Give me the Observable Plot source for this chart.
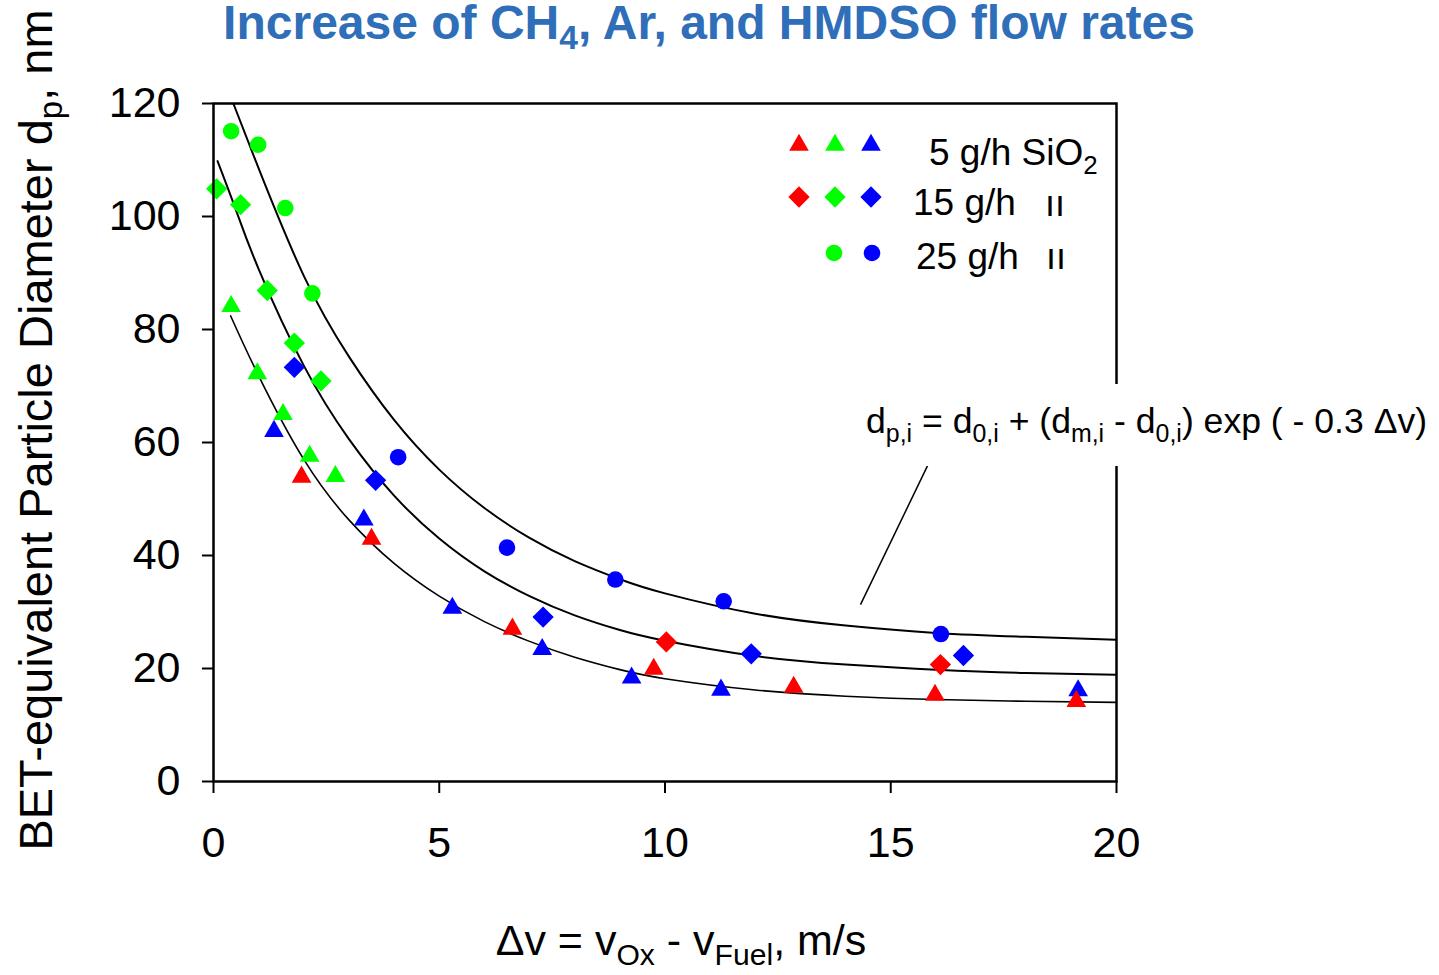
<!DOCTYPE html>
<html><head><meta charset="utf-8">
<script src="https://cdn.jsdelivr.net/npm/d3@7"></script>
<script src="https://cdn.jsdelivr.net/npm/@observablehq/plot@0.6"></script>
<style>body{margin:0;background:#fff} svg{display:block}</style>
</head><body><div id="chart"></div>
<script>
// ---- measured data (Δv in m/s, d_p in nm) ----
const redTriX   = [1.95, 3.50, 6.62, 9.75, 12.85, 15.98, 19.11];
const redTriY   = [53.9, 42.9, 27.0, 19.9, 16.7, 15.3, 14.2];
const greenTriX = [0.39, 0.97, 1.54, 2.13, 2.70];
const greenTriY = [84.1, 72.2, 65.0, 57.6, 54.0];
const blueTriX  = [1.34, 3.33, 5.29, 7.28, 9.26, 11.24, 19.15];
const blueTriY  = [62.0, 46.3, 30.7, 23.4, 18.35, 16.2, 16.1];
const redDiaX   = [10.03, 16.10];
const redDiaY   = [24.7, 20.7];
const greenDiaX = [0.07, 0.60, 1.19, 1.79, 2.38];
const greenDiaY = [104.9, 102.1, 86.9, 77.6, 70.9];
const blueDiaX  = [1.79, 3.59, 7.30, 11.91, 16.61];
const blueDiaY  = [73.3, 53.3, 29.1, 22.6, 22.3];
const greenCirX = [0.39, 0.99, 1.59, 2.19];
const greenCirY = [115.1, 112.7, 101.5, 86.4];
const blueCirX  = [4.09, 6.50, 8.90, 11.30, 16.11];
const blueCirY  = [57.4, 41.4, 35.75, 31.9, 26.1];

// ---- fitted curves ----
const fit25X = [0.44, 1, 2, 3, 4, 5, 6, 7, 8, 9, 10, 12, 14, 16, 18, 20];
const fit25Y = [120, 108.5, 89.5, 75.2, 64.0, 55.2, 48.4, 43.1, 39.0, 35.8, 33.3, 29.7, 27.6, 26.3, 25.6, 25.1];
const fit15X = [0.09, 0.5, 1, 2, 3, 4, 5, 6, 7, 8, 9, 10, 12, 14, 16, 18, 20];
const fit15Y = [109.8, 101.1, 90.7, 73.6, 60.6, 50.6, 43.0, 37.2, 32.8, 29.4, 26.8, 24.9, 22.2, 20.7, 19.8, 19.2, 18.9];
const fit5X  = [0.38, 1, 2, 3, 4, 5, 6, 7, 8, 9, 10, 12, 14, 16, 18, 20];
const fit5Y  = [82.4, 71.8, 57.0, 46.3, 38.6, 32.8, 28.3, 24.8, 22.0, 19.8, 18.2, 16.2, 15.1, 14.5, 14.2, 14.0];

// ---- axes / annotation ----
const xTicks = [0, 5, 10, 15, 20];
const yTicks = [0, 20, 40, 60, 80, 100, 120];
const leaderX = [15.84, 14.33];
const leaderY = [56.3, 31.3];

const RED = "#ff0000", GREEN = "#00ff00", BLUE = "#0000ff";
const FONT = "'Liberation Sans', Arial, Helvetica, sans-serif";
const R_TRI = 7.3, R_DIA = 9.6, R_CIR = 8.3;

const pts = (xs, ys) => xs.map((x, i) => ({x, y: ys[i]}));
const dots = (xs, ys, color, symbol, r) =>
  Plot.dot(pts(xs, ys), {x: "x", y: "y", fill: color, stroke: "none", symbol, r});
const fit = (xs, ys, w) =>
  Plot.line(pts(xs, ys), {x: "x", y: "y", stroke: "black", strokeWidth: w, curve: "natural", clip: true});

const plot = Plot.plot({
  width: 1439, height: 975,
  marginLeft: 213, marginRight: 323, marginTop: 103, marginBottom: 194,
  style: {fontFamily: FONT, color: "black", background: "white", overflow: "visible"},
  x: {domain: [0, 20]},
  y: {domain: [0, 120]},
  marks: [
    fit(fit25X, fit25Y, 2),
    fit(fit15X, fit15Y, 2),
    fit(fit5X, fit5Y, 1.6),
    dots(greenCirX, greenCirY, GREEN, "circle", R_CIR),
    dots(blueCirX, blueCirY, BLUE, "circle", R_CIR),
    dots(greenDiaX, greenDiaY, GREEN, "diamond2", R_DIA),
    dots(blueDiaX, blueDiaY, BLUE, "diamond2", R_DIA),
    dots(redDiaX, redDiaY, RED, "diamond2", R_DIA),
    dots(greenTriX, greenTriY, GREEN, "triangle", R_TRI),
    dots(blueTriX, blueTriY, BLUE, "triangle", R_TRI),
    dots(redTriX, redTriY, RED, "triangle", R_TRI),
    Plot.frame({stroke: "black", strokeWidth: 2.5}),
    Plot.axisX({ticks: xTicks, tickSize: 12, tickPadding: 33, fontSize: 43, strokeWidth: 2, label: null, tickFormat: d => String(d)}),
    Plot.axisY({ticks: yTicks, tickSize: 11, tickPadding: 22, fontSize: 43, strokeWidth: 2, label: null, tickFormat: d => String(d)}),
    Plot.link([0], {x1: () => leaderX[0], y1: () => leaderY[0], x2: () => leaderX[1], y2: () => leaderY[1], stroke: "black", strokeWidth: 1.5})
  ]
});

document.getElementById("chart").appendChild(plot);
const svg = d3.select(plot);

// rich text helper: parts = [[text, "sub"|null], ...]
function rich(g, parts, size, subDy) {
  g.attr("font-size", size);
  let pending = 0;
  parts.forEach(([t, kind]) => {
    const ts = g.append("tspan").text(t);
    if (kind === "sub") {
      ts.attr("dy", subDy + pending).attr("font-size", size * 0.7);
      pending = -subDy;
    } else {
      if (pending) ts.attr("dy", pending);
      ts.attr("font-size", size);
      pending = 0;
    }
  });
}
const txt = (x, y, anchor) => svg.append("text").attr("x", x).attr("y", y)
  .attr("text-anchor", anchor).attr("font-family", FONT).attr("fill", "black");

// title
const title = txt(709, 39, "middle").attr("font-weight", "bold").attr("fill", "#2f6eb8");
rich(title, [["Increase of CH"], ["4", "sub"], [", Ar, and HMDSO flow rates"]], 48, 10);

// y label
const yl = svg.append("text").attr("transform", "translate(52,430) rotate(-90)").attr("text-anchor", "middle")
  .attr("font-family", FONT).attr("fill", "black");
rich(yl, [["BET-equivalent Particle Diameter d"], ["p", "sub"], [", nm"]], 47, 10);

// x label
const xl = txt(681, 955, "middle");
rich(xl, [["\u0394v = v"], ["Ox", "sub"], [" - v"], ["Fuel", "sub"], [", m/s"]], 43, 10);

// formula with white background (hides the frame behind it)
svg.append("rect").attr("x", 862).attr("y", 384).attr("width", 577).attr("height", 82).attr("fill", "white");
const fm = txt(866, 433, "start");
rich(fm, [["d"], ["p,i", "sub"], [" = d"], ["0,i", "sub"], [" + (d"], ["m,i", "sub"], [" - d"], ["0,i", "sub"], [") exp ( - 0.3 \u0394v)"]], 35.6, 9);

// legend
const lg = svg.append("g");
const sym = (type, area, x, y, color) =>
  lg.append("path").attr("d", d3.symbol(type, area)()).attr("transform", `translate(${x},${y})`).attr("fill", color);
const triA = Math.PI * R_TRI * R_TRI, diaA = Math.PI * R_DIA * R_DIA, cirA = Math.PI * R_CIR * R_CIR;
[[RED, 799], [GREEN, 835], [BLUE, 871]].forEach(([c, x]) => sym(d3.symbolTriangle, triA, x, 145, c));
[[RED, 799], [GREEN, 835], [BLUE, 871]].forEach(([c, x]) => sym(d3.symbolDiamond2, diaA, x, 197, c));
[[GREEN, 834], [BLUE, 872]].forEach(([c, x]) => sym(d3.symbolCircle, cirA, x, 253, c));
rich(txt(929, 165, "start"), [["5 g/h SiO"], ["2", "sub"]], 37, 9);
txt(913, 215, "start").attr("font-size", 37).text("15 g/h");
txt(1045, 216, "start").attr("font-size", 36).text("\u0131\u0131");
txt(916, 269, "start").attr("font-size", 37).text("25 g/h");
txt(1046, 269, "start").attr("font-size", 36).text("\u0131\u0131");
</script>
</body></html>
